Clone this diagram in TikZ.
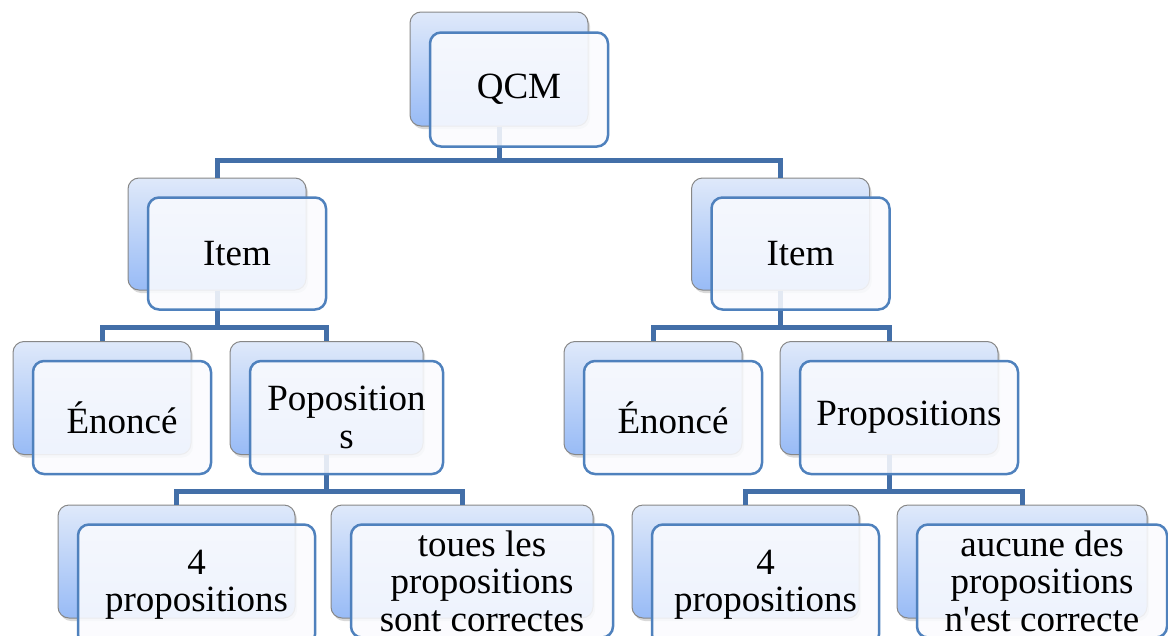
\documentclass[tikz,border=0pt]{standalone}
\usepackage{fontspec}
\setmainfont{Liberation Serif}
\usetikzlibrary{shadows}

\definecolor{linkblue}{RGB}{67,111,168}
\definecolor{frameblue}{RGB}{79,129,189}
\definecolor{backtop}{RGB}{223,233,250}
\definecolor{backbottom}{RGB}{152,187,246}
\definecolor{backframe}{RGB}{135,135,135}
\definecolor{frontfill}{RGB}{250,251,254}

\begin{document}
\begin{tikzpicture}[x=1pt,y=-1pt]
	\useasboundingbox (0,0) rectangle (1168,635);
	\begin{scope}[every node/.style={rounded corners=11pt,draw=backframe,line width=1pt,
				top color=backtop,bottom color=backbottom,
				drop shadow={shadow xshift=2pt,shadow yshift=-3pt,opacity=0.3},
				minimum width=178pt,minimum height=113pt,inner sep=0pt}]
		% back boxes, level 0
		\node[minimum height=114pt] (qcmB) at (499,69) {};
		% level 1
		\node[minimum height=112pt] (itemLB) at (217,234) {};
		\node[minimum height=112pt] (itemRB) at (780.5,234) {};
		% level 2
		\node (enonceLB) at (102,398) {};
		\node[minimum width=193pt] (popoB) at (326.5,398) {};
		\node (enonceRB) at (653,398) {};
		\node[minimum width=218pt] (propoB) at (889,398) {};
		% level 3
		\node[minimum width=237pt] (quatreLB) at (176.5,561.5) {};
		\node[minimum width=262pt] (touesB) at (462,561.5) {};
		\node[minimum width=227pt] (quatreRB) at (745.5,561.5) {};
		\node[minimum width=250pt] (aucuneB) at (1022,561.5) {};
	\end{scope}

	\begin{scope}[every path/.style={draw=linkblue,line width=5pt}]
		\draw (qcmB.south) -- ++(0,34) -| (itemLB.north);
		\draw (qcmB.south) -- ++(0,34) -| (itemRB.north);

		\draw (itemLB.south) -- ++(0,37) -| (enonceLB.north);
		\draw (itemLB.south) -- ++(0,37) -| (popoB.north);
		\draw (itemRB.south) -- ++(0,37) -| (enonceRB.north);
		\draw (itemRB.south) -- ++(0,37) -| (propoB.north);

		\draw (popoB.south) -- ++(0,36) -| (quatreLB.north);
		\draw (popoB.south) -- ++(0,36) -| (touesB.north);
		\draw (propoB.south) -- ++(0,36) -| (quatreRB.north);
		\draw (propoB.south) -- ++(0,36) -| (aucuneB.north);
	\end{scope}

	\begin{scope}[every node/.style={rounded corners=11pt,draw=frameblue,line width=2.5pt,
				fill=frontfill,fill opacity=0.88,text opacity=1,align=center,
				font=\fontsize{37}{37.5}\selectfont,
				minimum width=178pt,minimum height=113pt,inner sep=0pt}]
		% front boxes, level 0
		\node[minimum height=114pt] (qcmF) at (519,89.5) {QCM};
		% level 1
		\node[minimum height=112pt] (itemLF) at (237,253.5) {Item};
		\node[minimum height=112pt] (itemRF) at (800.5,253.5) {Item};
		% level 2
		\node (enonceLF) at (122,417.5) {Énoncé};
		\node[minimum width=193pt] (popoF) at (346.5,417.5) {Poposition\\s};
		\node (enonceRF) at (673,417.5) {Énoncé};
		\node[minimum width=218pt] (propoF) at (909,417.5) {Propositions};
		% level 3 (boxes run past the lower edge)
		\node[minimum width=237pt,minimum height=121pt] (quatreLF) at (196.5,585) {4\\propositions};
		\node[minimum width=262pt] (touesF) at (482,581) {toues les\\propositions\\sont correctes};
		\node[minimum width=227pt,minimum height=121pt] (quatreRF) at (765.5,585) {4\\propositions};
		\node[minimum width=250pt] (aucuneF) at (1042,581) {aucune des\\propositions\\n\textquotesingle est correcte};
	\end{scope}
\end{tikzpicture}
\end{document}
